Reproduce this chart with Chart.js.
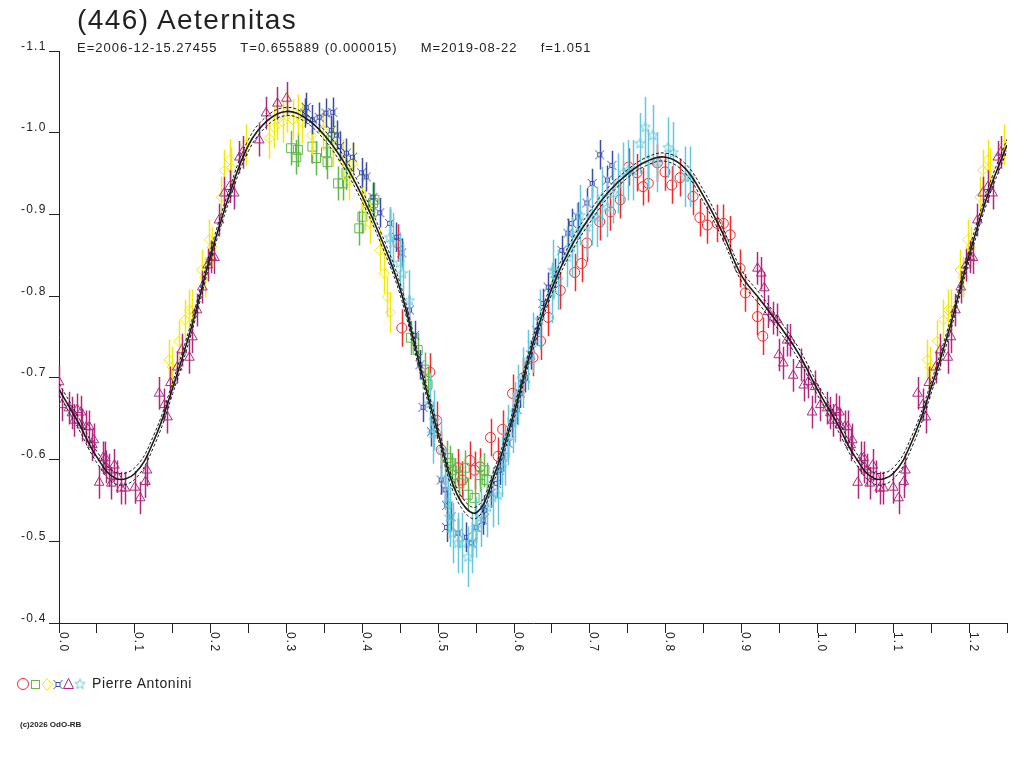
<!DOCTYPE html>
<html>
<head>
<meta charset="utf-8">
<title>(446) Aeternitas</title>
<script src="https://cdn.jsdelivr.net/npm/chart.js"></script>
<style>
  body { margin: 0; background: #fff; }
  #wrap { position: relative; width: 1024px; height: 768px; font-family: "Liberation Sans", Arial, sans-serif; color: #222; }
  #lc { position: absolute; left: 0; top: 0; }
  .txt { position: absolute; white-space: pre; }
  #title { left: 77px; top: 6px; font-size: 28px; line-height: 28px; letter-spacing: 1.4px; }
  #sub { left: 77px; top: 41px; font-size: 13px; line-height: 13px; letter-spacing: 1px; }
  #obs { left: 92px; top: 676px; font-size: 14px; line-height: 14px; letter-spacing: 0.6px; }
  #copy { left: 20px; top: 721px; font-size: 8px; line-height: 8px; font-weight: bold; }
</style>
</head>
<body>
<div id="wrap">
  <canvas id="lc" width="1024" height="768"></canvas>
  <div class="txt" id="title">(446) Aeternitas</div>
  <div class="txt" id="sub">E=2006-12-15.27455     T=0.655889 (0.000015)     M=2019-08-22     f=1.051</div>
  <div class="txt" id="obs">Pierre Antonini</div>
  <div class="txt" id="copy">(c)2026 OdO-RB</div>
</div>
<script>
// fitted curve, phase 0..1 (repeated up to 1.25)
const fitPhase = [0.000, 0.025, 0.050, 0.075, 0.100, 0.125, 0.150, 0.175, 0.200, 0.225,
                  0.250, 0.275, 0.300, 0.325, 0.350, 0.375, 0.400, 0.425, 0.450, 0.475,
                  0.500, 0.525, 0.550, 0.575, 0.600, 0.625, 0.650, 0.675, 0.700, 0.725,
                  0.750, 0.775, 0.800, 0.825, 0.850, 0.875, 0.900, 0.925, 0.950, 0.975, 1.000];
const fitMag = [-0.686, -0.646, -0.603, -0.577, -0.583, -0.623, -0.688, -0.763, -0.850, -0.925,
                -0.985, -1.015, -1.026, -1.018, -0.997, -0.965, -0.922, -0.870, -0.808, -0.718,
                -0.632, -0.557, -0.535, -0.584, -0.657, -0.742, -0.810, -0.860, -0.897, -0.928,
                -0.950, -0.965, -0.970, -0.957, -0.922, -0.877, -0.825, -0.795, -0.764, -0.730, -0.686];
const fitHi = [-0.693, -0.653, -0.610, -0.584, -0.590, -0.630, -0.695, -0.770, -0.857, -0.932,
               -0.992, -1.021, -1.031, -1.023, -1.003, -0.972, -0.929, -0.877, -0.815, -0.725,
               -0.639, -0.564, -0.542, -0.591, -0.664, -0.749, -0.817, -0.867, -0.904, -0.934,
               -0.955, -0.970, -0.975, -0.963, -0.929, -0.884, -0.832, -0.802, -0.771, -0.737, -0.693];
const fitLo = [-0.679, -0.639, -0.596, -0.570, -0.576, -0.616, -0.681, -0.756, -0.843, -0.918,
               -0.978, -1.009, -1.021, -1.013, -0.991, -0.958, -0.915, -0.863, -0.801, -0.711,
               -0.625, -0.550, -0.528, -0.577, -0.650, -0.735, -0.803, -0.853, -0.890, -0.922,
               -0.945, -0.960, -0.965, -0.951, -0.915, -0.870, -0.818, -0.788, -0.757, -0.723, -0.679];

// sessions (phase, reduced magnitude), all by Pierre Antonini
const redPhase = [0.447, 0.452, 0.489, 0.498, 0.504, 0.526, 0.532, 0.542, 0.548, 0.555, 0.569, 0.579,
                  0.585, 0.598, 0.612, 0.625, 0.635, 0.645, 0.661, 0.680, 0.689, 0.696, 0.713, 0.727,
                  0.740, 0.751, 0.762, 0.770, 0.777, 0.789, 0.799, 0.808, 0.819, 0.836, 0.845, 0.855,
                  0.868, 0.876, 0.885, 0.898, 0.905, 0.921, 0.928];
const redMag = [-0.865, -0.761, -0.707, -0.648, -0.612, -0.590, -0.575, -0.599, -0.587, -0.591, -0.627, -0.604,
                -0.637, -0.681, -0.700, -0.725, -0.745, -0.774, -0.807, -0.829, -0.840, -0.865, -0.891, -0.903,
                -0.918, -0.958, -0.951, -0.934, -0.938, -0.963, -0.952, -0.936, -0.945, -0.922, -0.896, -0.887,
                -0.889, -0.889, -0.875, -0.834, -0.804, -0.775, -0.751];

const greenPhase = [0.306, 0.313, 0.315, 0.334, 0.339, 0.352, 0.354, 0.361, 0.368, 0.374, 0.379, 0.396,
                    0.400, 0.414, 0.416, 0.464, 0.473, 0.482, 0.486, 0.511, 0.515, 0.518, 0.522, 0.528,
                    0.535, 0.539, 0.548, 0.555, 0.561, 0.564];
const greenMag = [-0.981, -0.970, -0.979, -0.983, -0.969, -0.976, -0.964, -0.995, -0.938, -0.938, -0.951, -0.883,
                  -0.897, -0.914, -0.918, -0.749, -0.734, -0.710, -0.692, -0.602, -0.596, -0.587, -0.581, -0.571,
                  -0.590, -0.557, -0.553, -0.581, -0.587, -0.575];

const yellowPhase = [0.145, 0.149, 0.158, 0.166, 0.172, 0.176, 0.188, 0.192, 0.198, 0.202, 0.214, 0.218,
                     0.225, 0.227, 0.246, 0.277, 0.284, 0.288, 0.295, 0.300, 0.308, 0.315, 0.321, 0.333,
                     0.348, 0.361, 0.374, 0.383, 0.387, 0.399, 0.403, 0.410, 0.423, 0.429, 0.433, 0.437];
const yellowMag = [-0.722, -0.713, -0.745, -0.771, -0.783, -0.783, -0.832, -0.823, -0.869, -0.860, -0.921, -0.954,
                   -0.967, -0.957, -0.985, -0.993, -1.006, -1.016, -1.013, -1.025, -1.016, -1.022, -1.012, -0.997,
                   -1.003, -0.983, -0.967, -0.942, -0.962, -0.930, -0.905, -0.889, -0.856, -0.828, -0.799, -0.780];

const bluePhase = [0.324, 0.326, 0.334, 0.343, 0.352, 0.359, 0.361, 0.366, 0.370, 0.379, 0.387, 0.399,
                   0.405, 0.414, 0.423, 0.436, 0.445, 0.452, 0.462, 0.469, 0.476, 0.480, 0.491, 0.504,
                   0.509, 0.511, 0.511, 0.517, 0.526, 0.537, 0.544, 0.550, 0.559, 0.561, 0.570, 0.577,
                   0.581, 0.585, 0.592, 0.597, 0.604, 0.608, 0.615, 0.622, 0.630, 0.638, 0.645, 0.654,
                   0.663, 0.671, 0.676, 0.684, 0.696, 0.703, 0.713, 0.723, 0.729];
const blueMag = [-1.024, -1.031, -1.016, -1.019, -1.024, -1.003, -1.025, -0.997, -0.983, -0.975, -0.970, -0.951,
                 -0.946, -0.921, -0.902, -0.889, -0.872, -0.853, -0.783, -0.752, -0.716, -0.664, -0.634, -0.575,
                 -0.563, -0.544, -0.517, -0.530, -0.510, -0.505, -0.498, -0.517, -0.526, -0.538, -0.559, -0.571,
                 -0.587, -0.603, -0.620, -0.645, -0.661, -0.681, -0.700, -0.728, -0.758, -0.791, -0.811, -0.828,
                 -0.856, -0.877, -0.889, -0.897, -0.914, -0.938, -0.973, -0.942, -0.960];

const purplePhase = [0.000, 0.004, 0.013, 0.017, 0.020, 0.024, 0.029, 0.030, 0.036, 0.040, 0.044, 0.046,
                     0.053, 0.058, 0.061, 0.062, 0.066, 0.069, 0.073, 0.077, 0.082, 0.087, 0.100, 0.107,
                     0.114, 0.116, 0.132, 0.139, 0.143, 0.147, 0.156, 0.162, 0.172, 0.176, 0.182, 0.189,
                     0.196, 0.201, 0.205, 0.211, 0.218, 0.225, 0.231, 0.238, 0.242, 0.264, 0.273, 0.288,
                     0.300, 0.921, 0.926, 0.930, 0.935, 0.942, 0.947, 0.949, 0.955, 0.960, 0.964, 0.968,
                     0.978, 0.982, 0.988, 0.993, 0.997];
const purpleMag = [-0.695, -0.667, -0.663, -0.657, -0.648, -0.661, -0.658, -0.642, -0.640, -0.640, -0.618, -0.624,
                   -0.572, -0.602, -0.602, -0.591, -0.587, -0.571, -0.593, -0.579, -0.565, -0.565, -0.566, -0.553,
                   -0.573, -0.587, -0.681, -0.667, -0.652, -0.694, -0.713, -0.734, -0.725, -0.750, -0.783, -0.811,
                   -0.838, -0.848, -0.847, -0.893, -0.926, -0.934, -0.926, -0.970, -0.976, -0.991, -1.024, -1.036,
                   -1.042, -0.834, -0.828, -0.810, -0.781, -0.773, -0.771, -0.728, -0.718, -0.746, -0.746, -0.703,
                   -0.716, -0.691, -0.695, -0.658, -0.689];

const cyanPhase = [0.436, 0.440, 0.449, 0.453, 0.462, 0.489, 0.493, 0.495, 0.504, 0.509, 0.513, 0.515,
                   0.519, 0.526, 0.532, 0.539, 0.544, 0.550, 0.557, 0.565, 0.572, 0.579, 0.584, 0.588,
                   0.592, 0.598, 0.601, 0.605, 0.612, 0.618, 0.625, 0.634, 0.650, 0.651, 0.658, 0.670,
                   0.676, 0.683, 0.687, 0.696, 0.703, 0.709, 0.716, 0.723, 0.731, 0.737, 0.744, 0.750,
                   0.757, 0.766, 0.773, 0.777, 0.783, 0.789, 0.803, 0.810, 0.826, 0.832];
const cyanMag = [-0.872, -0.865, -0.841, -0.828, -0.795, -0.669, -0.632, -0.648, -0.612, -0.575, -0.547, -0.530,
                 -0.510, -0.498, -0.498, -0.481, -0.498, -0.517, -0.530, -0.542, -0.554, -0.557, -0.591, -0.605,
                 -0.630, -0.645, -0.658, -0.679, -0.700, -0.722, -0.743, -0.771, -0.804, -0.832, -0.820, -0.848,
                 -0.860, -0.877, -0.899, -0.885, -0.899, -0.897, -0.921, -0.909, -0.926, -0.938, -0.951, -0.954,
                 -0.954, -0.987, -1.007, -0.967, -0.997, -0.964, -0.982, -0.976, -0.946, -0.946];

// typical error bar half-length of each session
const sessionErr = { red: 0.023, green: 0.021, yellow: 0.025, blue: 0.018, purple: 0.02, cyan: 0.037 };

const colRed = "#ee2a2a", colGreen = "#62b848", colYellow = "#f2ea00",
      colBlue = "#3a4ea6", colPurple = "#b0287e", colCyan = "#66c8dc";

// fold: points with phase <= 0.25 are repeated one cycle later
function folded(ph, mg) {
    const pts = [];
    ph.forEach((p, i) => pts.push({ x: p, y: mg[i] }));
    ph.forEach((p, i) => { if (p > 0 && p <= 0.25) pts.push({ x: p + 1, y: mg[i] }); });
    return pts;
}

//marker images for the two symbols Chart.js lacks
function starMark(color) {
    const c = document.createElement("canvas");
    c.width = c.height = 13;
    const g = c.getContext("2d");
    g.strokeStyle = color;
    g.lineWidth = 1;
    g.beginPath();
    for (let i = 0; i < 10; i++) {
        const a = -Math.PI / 2 + i * Math.PI / 5;
        const rr = i % 2 ? 2.3 : 5.4;
        g.lineTo(6.5 + rr * Math.cos(a), 6.8 + rr * Math.sin(a));
    }
    g.closePath();
    g.stroke();
    return c;
}
function boxMark(color) {
    const c = document.createElement("canvas");
    c.width = c.height = 11;
    const g = c.getContext("2d");
    g.strokeStyle = color;
    g.lineWidth = 1;
    g.strokeRect(3.5, 3.5, 4, 4);
    g.beginPath();
    g.moveTo(1, 1); g.lineTo(3.5, 3.5);
    g.moveTo(10, 1); g.lineTo(7.5, 3.5);
    g.moveTo(1, 10); g.lineTo(3.5, 7.5);
    g.moveTo(10, 10); g.lineTo(7.5, 7.5);
    g.stroke();
    return c;
}
const cyanStar = starMark(colCyan);
const blueBox = boxMark(colBlue);

function session(data, color, style, radius, err) {
    return {
        data: data,
        err: err,
        showLine: false,
        pointStyle: style,
        pointRadius: radius,
        pointHoverRadius: radius,
        borderColor: color,
        backgroundColor: "rgba(0,0,0,0)",
        pointBorderWidth: 1,
    };
}
function fitLine(mags, dash, width) {
    return {
        data: folded(fitPhase, mags),
        showLine: true,
        pointRadius: 0,
        borderColor: "#1a1a1a",
        borderWidth: width,
        borderDash: dash,
        tension: 0.4,
        fill: false,
    };
}

const errorBars = {
    id: "errorBars",
    beforeDatasetDraw(chart, args) {
        const ds = chart.data.datasets[args.index];
        if (!ds.err) return;
        const { ctx, scales: { x, y } } = chart;
        ctx.save();
        ctx.strokeStyle = ds.borderColor;
        ctx.lineWidth = 1.5;
        ctx.beginPath();
        ds.data.forEach((p) => {
            const px = Math.round(x.getPixelForValue(p.x)) + 0.5;
            ctx.moveTo(px, y.getPixelForValue(p.y - ds.err));
            ctx.lineTo(px, y.getPixelForValue(p.y + ds.err));
        });
        ctx.stroke();
        ctx.restore();
    },
};

const axisText = {
    id: "axisText",
    afterDraw(chart) {
        const { ctx, scales: { x, y } } = chart;
        ctx.save();
        ctx.fillStyle = "#222";
        ctx.font = '12px "Liberation Sans", Arial, sans-serif';
        ctx.letterSpacing = "1.2px";
        ctx.textBaseline = "alphabetic";
        // y labels sit just above their ticks
        ctx.textAlign = "right";
        y.ticks.forEach((t) => {
            ctx.fillText(t.value.toFixed(1), 46.5, y.getPixelForValue(t.value) - 1.5);
        });
        // x labels, turned to read downwards
        ctx.textAlign = "left";
        x.ticks.forEach((t) => {
            if (Math.round(t.value * 100) % 10 !== 0) return;
            ctx.save();
            ctx.translate(x.getPixelForValue(t.value) + 0.5, 632);
            ctx.rotate(Math.PI / 2);
            ctx.fillText(t.value.toFixed(1), 0, 0);
            ctx.restore();
        });
        ctx.restore();

        // observer legend symbols
        ctx.save();
        ctx.lineWidth = 1;
        ctx.strokeStyle = colRed;
        ctx.beginPath(); ctx.arc(23, 684, 5.5, 0, Math.PI * 2); ctx.stroke();
        ctx.strokeStyle = colGreen;
        ctx.strokeRect(31.5, 680.5, 8, 8);
        ctx.strokeStyle = colYellow;
        ctx.beginPath();
        ctx.moveTo(47, 678.5); ctx.lineTo(52, 684.5); ctx.lineTo(47, 690.5); ctx.lineTo(42, 684.5);
        ctx.closePath(); ctx.stroke();
        ctx.drawImage(blueBox, 52.5, 679);
        ctx.strokeStyle = colPurple;
        ctx.beginPath();
        ctx.moveTo(68.5, 678.5); ctx.lineTo(73.5, 688.5); ctx.lineTo(63.5, 688.5);
        ctx.closePath(); ctx.stroke();
        ctx.drawImage(cyanStar, 73.5, 677.5);
        ctx.restore();
    },
};

const datasets = [
    fitLine(fitMag, [], 1.6),
    fitLine(fitHi, [3, 2], 1),
    fitLine(fitLo, [3, 2], 1),
    session(folded(cyanPhase, cyanMag), colCyan, cyanStar, 6, sessionErr.cyan),
    session(folded(purplePhase, purpleMag), colPurple, "triangle", 5.6, sessionErr.purple),
    session(folded(bluePhase, blueMag), colBlue, blueBox, 5, sessionErr.blue),
    session(folded(yellowPhase, yellowMag), colYellow, "rectRot", 5, sessionErr.yellow),
    session(folded(greenPhase, greenMag), colGreen, "rect", 6.3, sessionErr.green),
    session(folded(redPhase, redMag), colRed, "circle", 5, sessionErr.red),
];

const ctx = document.getElementById("lc").getContext("2d");

const chart = new Chart(ctx, {
    type: "scatter",
    data: { datasets },
    plugins: [errorBars, axisText],
    options: {
        responsive: false,
        animation: false,
        devicePixelRatio: 1,
        layout: { padding: { left: 0, top: 51, right: 17, bottom: 105 } },
        plugins: {
            legend: { display: false },
            tooltip: { enabled: false },
        },
        scales: {
            x: {
                type: "linear",
                min: 0,
                max: 1.25,
                ticks: { stepSize: 0.05, autoSkip: false, callback: () => "" },
                grid: { drawOnChartArea: false, drawTicks: true, tickLength: 10, tickColor: "#222", color: "#222" },
                border: { display: true, color: "#222", width: 1 },
                afterFit: (s) => { s.height = 40; },
            },
            y: {
                type: "linear",
                min: -1.1,
                max: -0.4,
                reverse: true,
                ticks: { stepSize: 0.1, autoSkip: false, callback: () => "" },
                grid: { drawOnChartArea: false, drawTicks: true, tickLength: 10, tickColor: "#222", color: "#222" },
                border: { display: true, color: "#222", width: 1 },
                afterFit: (s) => { s.width = 59; },
            },
        },
    },
});
</script>
</body>
</html>
